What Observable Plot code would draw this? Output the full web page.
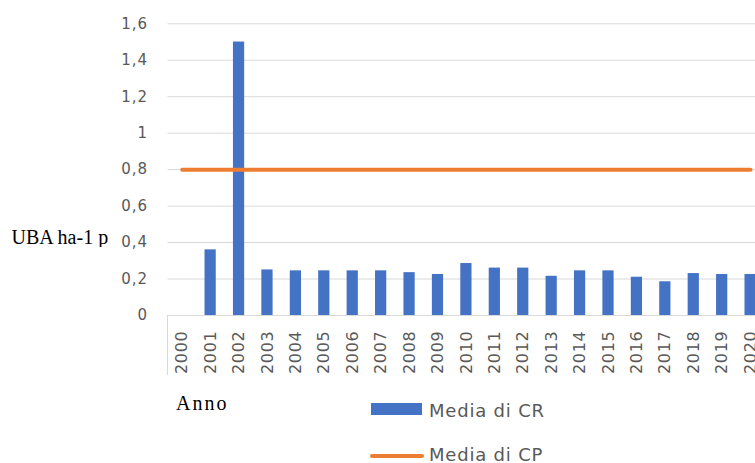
<!DOCTYPE html>
<html><head><meta charset="utf-8">
<script src="https://cdn.jsdelivr.net/npm/d3@7"></script>
<script src="https://cdn.jsdelivr.net/npm/@observablehq/plot@0.6"></script>
<style>
html,body{margin:0;padding:0;background:#fff;overflow:hidden}
#wrap{position:relative;width:755px;height:463px;overflow:hidden}
.lbl{position:absolute;white-space:nowrap}
.serif{font-family:"Liberation Serif","Times New Roman",serif;font-size:20px;line-height:20px;color:#000}
.leg{font-family:"DejaVu Sans",sans-serif;font-size:18px;line-height:12px;color:#595959;letter-spacing:0.8px}
</style></head><body><div id="wrap"></div>
<script>
const years = ["2000","2001","2002","2003","2004","2005","2006","2007","2008","2009","2010",
               "2011","2012","2013","2014","2015","2016","2017","2018","2019","2020"];
const crValues = [null, 0.36, 1.5, 0.25, 0.245, 0.245, 0.245, 0.245, 0.235, 0.225, 0.285,
                  0.26, 0.26, 0.215, 0.245, 0.245, 0.21, 0.185, 0.23, 0.225, 0.225];
const cpValues = [0.8, 0.8, 0.8, 0.8, 0.8, 0.8, 0.8, 0.8, 0.8, 0.8, 0.8,
                  0.8, 0.8, 0.8, 0.8, 0.8, 0.8, 0.8, 0.8, 0.8, 0.8];
const yTicks = [0, 0.2, 0.4, 0.6, 0.8, 1, 1.2, 1.4, 1.6];
const seriesNames = ["Media di CR", "Media di CP"];
const seriesColors = ["#4472C4", "#ED7D31"];
const yLabel = "UBA ha-1 p";
const xLabel = "Anno";

const rows = years.map((y, i) => ({year: y, cr: crValues[i], cp: cpValues[i]}));

const plot = Plot.plot({
  width: 755, height: 463,
  marginLeft: 167.5, marginRight: 0, marginTop: 23.3, marginBottom: 148,
  style: {fontFamily: "DejaVu Sans", background: "#fff", maxWidth: "none"},
  x: {type: "band", domain: years, range: [167.5, 764.3], padding: 0, round: false, label: null},
  y: {domain: [0, 1.6], range: [315, 23.3], label: null},
  marks: [
    Plot.ruleY(yTicks, {stroke: "#D9D9D9", strokeWidth: 1}),
    Plot.barY(rows.filter(d => d.cr != null), {x: "year", y: "cr", fill: seriesColors[0], insetLeft: 8.6, insetRight: 8.6}),
    Plot.lineY(rows, {x: "year", y: "cp", stroke: seriesColors[1], strokeWidth: 4, strokeLinecap: "round"}),
    Plot.axisY({ticks: yTicks, tickSize: 0, tickPadding: 20, tickFormat: d => String(d).replace(".", ","),
                fontSize: 15, color: "#595959", label: null}),
    Plot.axisX({tickRotate: -90, tickSize: 0, tickPadding: 15, fontSize: 16, color: "#595959", label: null})
  ]
});

// light box line at the left of the category labels
const xs = plot.scale("x"), ys = plot.scale("y");
const svg = d3.select(plot);
const y0 = ys.apply(0);
svg.append("line")
  .attr("x1", xs.apply(years[0])).attr("x2", xs.apply(years[0]))
  .attr("y1", y0).attr("y2", y0 + 60)
  .attr("stroke", "#D9D9D9").attr("stroke-width", 1);
svg.selectAll("g[aria-label='y-axis tick label'] text").attr("letter-spacing", "1px");
svg.selectAll("g[aria-label='x-axis tick label'] text").attr("letter-spacing", "0.7px");

const wrap = document.getElementById("wrap");
wrap.appendChild(plot);

function addLabel(html, cls, css) {
  const d = document.createElement("div");
  d.className = "lbl " + cls;
  d.innerHTML = html;
  Object.assign(d.style, css);
  wrap.appendChild(d);
  return d;
}
addLabel(yLabel, "serif", {left: "11.5px", top: "227.3px", width: "96px", overflow: "hidden"});
addLabel(xLabel, "serif", {left: "176px", top: "392.5px", letterSpacing: "2px"});

// legend
addLabel("", "", {left: "371px", top: "403.3px", width: "51px", height: "12px", background: seriesColors[0]});
addLabel(seriesNames[0], "leg", {left: "429px", top: "404.5px"});
addLabel("", "", {left: "370px", top: "454px", width: "54px", height: "4px", borderRadius: "2px", background: seriesColors[1]});
addLabel(seriesNames[1], "leg", {left: "429px", top: "448.8px"});
</script>
</body></html>
